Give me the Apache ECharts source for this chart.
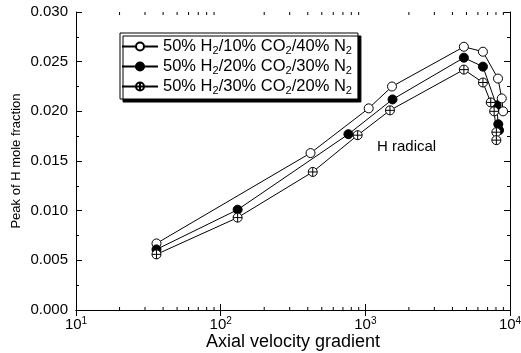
<!DOCTYPE html>
<html>
<head>
<meta charset="utf-8">
<script src="https://cdn.jsdelivr.net/npm/echarts@6/dist/echarts.min.js"></script>
<style>
  html, body { margin: 0; padding: 0; background: #fff; }
  #chart { width: 521px; height: 353px; }
</style>
</head>
<body>
<div id="chart"></div>
<script>
// series names
const seriesNames = [
  '50% H₂/10% CO₂/40% N₂',
  '50% H₂/20% CO₂/30% N₂',
  '50% H₂/30% CO₂/20% N₂'
]

// open circles
const openX = [36, 418, 1055, 1528, 4800, 6500, 8260, 8770, 8960]
const openY = [0.0067, 0.0158, 0.0203, 0.0225, 0.0265, 0.0260, 0.0233, 0.0213, 0.0200]

// filled circles
const filledX = [36, 131, 764, 1542, 4800, 6500, 8070, 8300, 8400]
const filledY = [0.0061, 0.0101, 0.0177, 0.0212, 0.0254, 0.0245, 0.0206, 0.0187, 0.0181]

// crossed circles
const crossX = [36, 131, 433, 885, 1480, 4800, 6500, 7360, 7770, 8050, 8050]
const crossY = [0.0056, 0.0093, 0.0139, 0.0176, 0.0201, 0.0242, 0.0229, 0.0209, 0.0200, 0.0179, 0.0171]

// axis ticks
const xTickPowers = { 10: '1', 100: '2', 1000: '3', 10000: '4' }
const xMinorTicks = [20, 30, 40, 50, 60, 70, 80, 90, 200, 300, 400, 500, 600, 700, 800, 900,
  2000, 3000, 4000, 5000, 6000, 7000, 8000, 9000]

const FONT = '"Liberation Sans", Arial, sans-serif'
const crossSymbol = 'path://M0,-10A10,10 0 1,1 0,10A10,10 0 1,1 0,-10Z M-10,0L10,0 M0,-10L0,10'

const pair = (xs, ys) => xs.map((x, i) => [x, ys[i]])
// turn the unicode subscript two into a rich text token
const subRich = s => s.replace(/₂/g, '{s|2}')

const myChart = echarts.init(document.getElementById('chart'))

const lineSeries = (name, data, symbol, fill) => ({
  name: name,
  type: 'line',
  data: data,
  symbol: symbol,
  symbolSize: 9,
  showSymbol: true,
  lineStyle: { color: '#000', width: 1 },
  itemStyle: { color: fill, borderColor: '#000', borderWidth: 1 },
  emphasis: { disabled: true },
  z: 3
})

const option = {
  animation: false,
  backgroundColor: '#fff',
  grid: { left: 76, right: 11, top: 12, bottom: 43, outerBoundsMode: 'none' },
  legend: {
    data: seriesNames,
    orient: 'vertical',
    left: 120,
    top: 33,
    itemWidth: 36,
    itemHeight: 10,
    itemGap: 2,
    padding: [5, 6, 3, 1],
    borderColor: '#000',
    borderWidth: 1,
    backgroundColor: '#fff',
    shadowColor: '#000',
    shadowBlur: 0,
    shadowOffsetX: 3,
    shadowOffsetY: 3,
    formatter: subRich,
    textStyle: {
      fontFamily: FONT, fontSize: 16.5, color: '#000',
      rich: { s: { fontFamily: FONT, fontSize: 11, color: '#000', padding: [8, 0, 0, 0] } }
    }
  },
  xAxis: [
    {
      type: 'log',
      logBase: 10,
      min: 10,
      max: 10000,
      name: 'Axial velocity gradient',
      nameLocation: 'middle',
      nameGap: 23,
      nameMoveOverlap: false,
      nameTextStyle: { fontFamily: FONT, fontSize: 18, color: '#000' },
      axisLine: { lineStyle: { color: '#000', width: 1 } },
      axisTick: { inside: true, length: 6, lineStyle: { color: '#000' } },
      axisLabel: {
        fontFamily: FONT, fontSize: 15, color: '#000', margin: 6,
        formatter: v => '10{p|' + (xTickPowers[Math.round(v)] || '') + '}',
        rich: { p: { fontFamily: FONT, fontSize: 10, color: '#000', padding: [0, 0, 8, 0] } }
      },
      splitLine: { show: false }
    },
    {
      type: 'log',
      logBase: 10,
      min: 10,
      max: 10000,
      position: 'top',
      axisLine: { lineStyle: { color: '#000', width: 1 } },
      axisTick: { inside: true, length: 6, lineStyle: { color: '#000' } },
      axisLabel: { show: false },
      splitLine: { show: false }
    }
  ],
  yAxis: [
    {
      type: 'value',
      min: 0,
      max: 0.03,
      interval: 0.005,
      name: 'Peak of H mole fraction',
      nameLocation: 'middle',
      nameGap: 53,
      nameMoveOverlap: false,
      nameTextStyle: { fontFamily: FONT, fontSize: 13, color: '#000' },
      axisLine: { show: true, lineStyle: { color: '#000', width: 1 } },
      axisTick: { inside: true, length: 6, lineStyle: { color: '#000' } },
      minorTick: { show: true, splitNumber: 2, length: 3, lineStyle: { color: '#000' } },
      axisLabel: {
        fontFamily: FONT, fontSize: 15, color: '#000', margin: 8,
        formatter: v => v.toFixed(3)
      },
      splitLine: { show: false }
    },
    {
      type: 'value',
      min: 0,
      max: 0.03,
      interval: 0.005,
      position: 'right',
      axisLine: { show: true, lineStyle: { color: '#000', width: 1 } },
      axisTick: { inside: true, length: 6, lineStyle: { color: '#000' } },
      minorTick: { show: true, splitNumber: 2, length: 3, lineStyle: { color: '#000' } },
      axisLabel: { show: false },
      splitLine: { show: false }
    }
  ],
  graphic: [
    {
      type: 'text',
      left: 377,
      top: 139,
      style: { text: 'H radical', font: '15px ' + FONT, fill: '#000' }
    }
  ],
  series: [
    lineSeries(seriesNames[0], pair(openX, openY), 'circle', '#fff'),
    lineSeries(seriesNames[1], pair(filledX, filledY), 'circle', '#000'),
    lineSeries(seriesNames[2], pair(crossX, crossY), crossSymbol, '#fff'),
    {
      // minor ticks of the log axis (2..9 per decade), bottom and top
      type: 'custom',
      silent: true,
      data: xMinorTicks.map(v => [v, 0]),
      renderItem: (params, api) => {
        const b = api.coord([api.value(0), 0])
        const t = api.coord([api.value(0), 0.03])
        const ls = { stroke: '#000', lineWidth: 1 }
        return {
          type: 'group',
          children: [
            { type: 'line', shape: { x1: b[0], y1: b[1], x2: b[0], y2: b[1] - 3 }, style: ls },
            { type: 'line', shape: { x1: t[0], y1: t[1], x2: t[0], y2: t[1] + 3 }, style: ls }
          ]
        }
      },
      clip: false,
      z: 2
    }
  ]
}

myChart.setOption(option, true)
</script>
</body>
</html>
